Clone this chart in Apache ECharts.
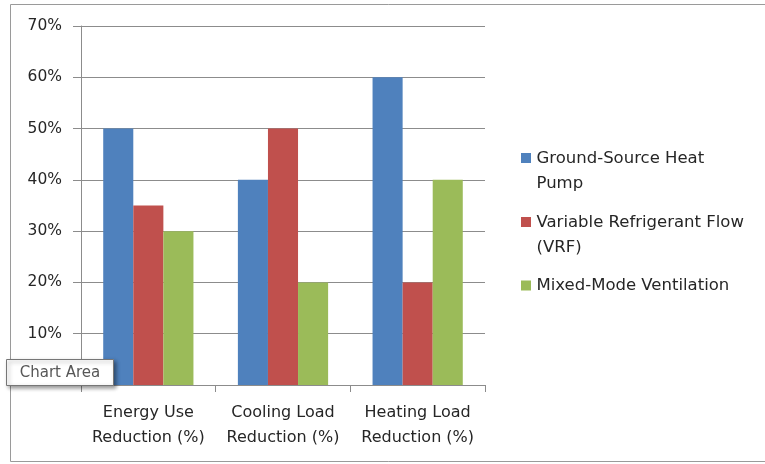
<!DOCTYPE html>
<html>
<head>
<meta charset="utf-8">
<script src="https://cdn.jsdelivr.net/npm/echarts@6/dist/echarts.min.js"></script>
<style>
  html, body { margin: 0; padding: 0; background: #fff; }
  #chart { width: 765px; height: 464px; }
</style>
</head>
<body>
<div id="chart"></div>
<script>
// data
const categories = ['Energy Use\nReduction (%)', 'Cooling Load\nReduction (%)', 'Heating Load\nReduction (%)']
const seriesNames = ['Ground-Source Heat Pump', 'Variable Refrigerant Flow (VRF)', 'Mixed-Mode Ventilation']
const legendLabels = ['Ground-Source Heat\nPump', 'Variable Refrigerant Flow\n(VRF)', 'Mixed-Mode Ventilation']
const gshp = [50, 40, 60]
const vrf = [35, 50, 20]
const mmv = [30, 20, 40]
const yTicks = [0, 10, 20, 30, 40, 50, 60, 70]

const colors = ['#4F81BD', '#C0504D', '#9BBB59']
const font = 'DejaVu Sans'
const textColor = '#262626'
const lineColor = '#8c8c8c'

// square icon in the top of a taller box so it lines up with the first text line
const topSquare = 'path://M0,0h10v10h-10z M0,35.9h0.01v0.1h-0.01z'
const square = 'path://M0,0h10v10h-10z'

function legendFor(i, top, icon, h) {
  return {
    data: [{ name: seriesNames[i], icon: icon }],
    left: 516,
    top: top,
    itemWidth: 11,
    itemHeight: h,
    symbolKeepAspect: true,
    formatter: () => legendLabels[i],
    textStyle: {
      fontFamily: font,
      fontSize: 16.5,
      lineHeight: 25,
      color: textColor,
    },
  }
}

const myChart = echarts.init(document.getElementById('chart'))
const option = {
  animation: false,
  color: colors,
  grid: {
    left: 81,
    right: 280,
    top: 26,
    bottom: 79,
  },
  legend: [
    legendFor(0, 141, topSquare, 36),
    legendFor(1, 205, topSquare, 36),
    legendFor(2, 268, square, 10),
  ],
  xAxis: {
    type: 'category',
    data: categories,
    axisLine: { lineStyle: { color: lineColor, width: 1 } },
    axisTick: { show: true, length: 7, lineStyle: { color: lineColor } },
    axisLabel: {
      interval: 0,
      hideOverlap: false,
      margin: 15,
      fontFamily: font,
      fontSize: 16,
      lineHeight: 25,
      color: textColor,
    },
  },
  yAxis: {
    type: 'value',
    min: 0,
    max: yTicks[yTicks.length - 1],
    interval: 10,
    axisLine: { show: true, lineStyle: { color: lineColor, width: 1 } },
    axisTick: { show: true, length: 8, lineStyle: { color: lineColor } },
    axisLabel: {
      margin: 19,
      showMinLabel: false, // hidden under the "Chart Area" tip
      fontFamily: font,
      fontSize: 15.5,
      color: textColor,
      formatter: '{value}%',
    },
    splitLine: { lineStyle: { color: lineColor, width: 1 } },
  },
  series: [
    { name: seriesNames[0], type: 'bar', data: gshp, barGap: '0%', barCategoryGap: '33%' },
    { name: seriesNames[1], type: 'bar', data: vrf, barGap: '0%', barCategoryGap: '33%' },
    { name: seriesNames[2], type: 'bar', data: mmv, barGap: '0%', barCategoryGap: '33%' },
  ],
  graphic: [
    {
      type: 'rect',
      z: 0,
      silent: true,
      shape: { x: 10.5, y: 4.5, width: 770, height: 457 },
      style: { fill: 'none', stroke: '#9a9a9a', lineWidth: 1 },
    },
    {
      // the "Chart Area" hover tip seen in the screenshot
      type: 'group',
      z: 100,
      left: 6,
      top: 359,
      children: [
        {
          type: 'rect',
          z: 100,
          shape: { x: 0.5, y: 0.5, width: 107, height: 26 },
          style: {
            fill: '#ffffff',
            stroke: '#767676',
            lineWidth: 1,
            shadowColor: 'rgba(0,0,0,0.4)',
            shadowBlur: 4,
            shadowOffsetX: 2,
            shadowOffsetY: 2,
          },
        },
        {
          type: 'text',
          z: 101,
          x: 54,
          y: 14,
          style: {
            text: 'Chart Area',
            fontFamily: font,
            fontSize: 15,
            fill: '#575757',
            align: 'center',
            verticalAlign: 'middle',
          },
        },
      ],
    },
  ],
}
myChart.setOption(option)
</script>
</body>
</html>
